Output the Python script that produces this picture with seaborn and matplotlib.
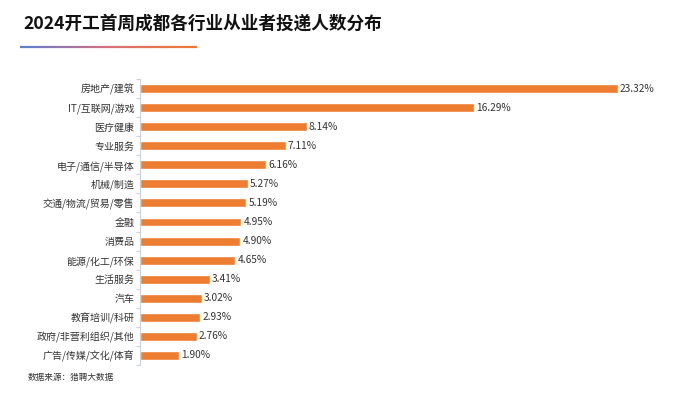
import numpy as np
import pandas as pd
import matplotlib
matplotlib.use("Agg")
import matplotlib.pyplot as plt
import seaborn as sns
from matplotlib.collections import LineCollection

industries = ["房地产/建筑", "IT/互联网/游戏", "医疗健康", "专业服务", "电子/通信/半导体",
              "机械/制造", "交通/物流/贸易/零售", "金融", "消费品", "能源/化工/环保",
              "生活服务", "汽车", "教育培训/科研", "政府/非营利组织/其他", "广告/传媒/文化/体育"]
shares = [23.32, 16.29, 8.14, 7.11, 6.16, 5.27, 5.19, 4.95, 4.90, 4.65,
          3.41, 3.02, 2.93, 2.76, 1.90]

df = pd.DataFrame({"industry": industries, "share": shares})

sns.set_theme(style="white")
plt.rcParams["font.family"] = ["Noto Sans CJK SC", "DejaVu Sans"]

fig = plt.figure(figsize=(7, 3.94), dpi=100)
ax = fig.add_axes([0.2, 0.0736, 0.79, 0.7259])

sns.barplot(data=df, x="share", y="industry", color="#ED7D31", saturation=1,
            width=0.47, ax=ax)

for i, v in enumerate(shares):
    ax.text(v + 0.1, i, f"{v:.2f}%", va="center", ha="left", fontsize=7.3, color="#333333")

ax.set_xlim(0, 27)
ax.set_ylim(14.5, -0.5)
ax.set_xlabel("")
ax.set_ylabel("")
ax.set_xticks([])
for s in ["top", "right", "bottom"]:
    ax.spines[s].set_visible(False)
ax.spines["left"].set_color("#c9d3e0")
ax.spines["left"].set_linewidth(0.8)
ax.tick_params(axis="y", which="major", length=0, labelsize=7.2, labelcolor="#333333", pad=4)
ax.set_yticks(np.arange(-0.5, 15, 1), minor=True)
ax.tick_params(axis="y", which="minor", length=3, color="#c9d3e0", width=0.8, left=True)

fig.text(0.034, 0.94, "2024开工首周成都各行业从业者投递人数分布", fontsize=12.7,
         fontweight="bold", color="#111111", va="center", ha="left")

# gradient underline
cmap = matplotlib.colors.LinearSegmentedColormap.from_list("g", ["#5b7fd0", "#d86f7a", "#f07a30"])
xs = np.linspace(20 / 700, 197 / 700, 120)
segs = [[(xs[k], 1 - 47 / 394), (xs[k + 1], 1 - 47 / 394)] for k in range(len(xs) - 1)]
lc = LineCollection(segs, colors=cmap(np.linspace(0, 1, len(segs))), linewidths=1.6,
                    transform=fig.transFigure)
fig.add_artist(lc)

fig.text(0.039, 0.043, "数据来源：猎聘大数据", fontsize=6.2, color="#333333", va="center", ha="left")

fig.savefig("out.png", dpi=100, facecolor="white")
